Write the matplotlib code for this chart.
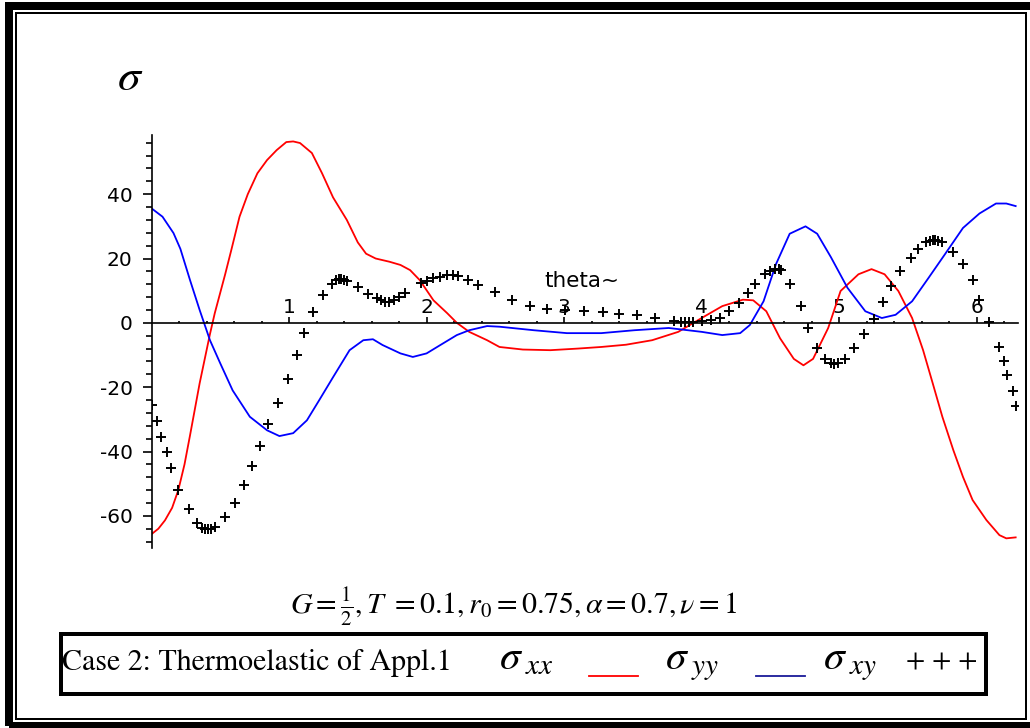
import numpy as np
import matplotlib
matplotlib.use("Agg")
import matplotlib.pyplot as plt
from matplotlib.patches import Rectangle
from matplotlib.lines import Line2D
from matplotlib.ticker import FixedLocator

plt.rcParams['mathtext.fontset'] = 'stix'
plt.rcParams['axes.unicode_minus'] = False

# sigma_xx (red line)
theta_xx = [0, 0.05, 0.098, 0.15, 0.195, 0.24, 0.28, 0.35, 0.425, 0.46, 0.535, 0.58,
            0.64, 0.70, 0.77, 0.84, 0.91, 0.98, 1.03, 1.08, 1.166, 1.24, 1.32, 1.42,
            1.50, 1.56, 1.63, 1.73, 1.81, 1.88, 1.95, 2.05, 2.15, 2.22, 2.31, 2.44,
            2.53, 2.70, 2.90, 3.10, 3.27, 3.45, 3.64, 3.83, 4.0, 4.15, 4.30, 4.375,
            4.47, 4.57, 4.67, 4.74, 4.81, 4.92, 5.01, 5.14, 5.235, 5.33, 5.43, 5.53,
            5.61, 5.68, 5.75, 5.83, 5.90, 5.97, 6.07, 6.165, 6.215, 6.283]
sig_xx = [-65.7, -64, -61.4, -57.5, -52, -44, -35, -18.8, -3.5, 3, 15, 22.6,
          33, 40, 46.5, 50.6, 53.7, 56.2, 56.4, 55.9, 52.8, 46.5, 39, 32,
          25, 21.5, 20, 19, 18, 16.4, 13.3, 7, 3, 0, -2.8, -5.4,
          -7.5, -8.3, -8.5, -8.0, -7.5, -6.8, -5.4, -2.8, 1.5, 5.2, 7.2, 7.0,
          3.6, -4.8, -11.2, -13.2, -11.2, -1.6, 9.9, 15.1, 16.7, 15.1, 9.9, 1.5,
          -8.5, -18.8, -29.2, -39.6, -47.9, -55.1, -61.3, -66, -67, -66.7]

# sigma_yy (blue line)
theta_yy = [0, 0.08, 0.16, 0.21, 0.28, 0.35, 0.425, 0.5, 0.59, 0.715, 0.84, 0.93,
            1.03, 1.13, 1.22, 1.32, 1.44, 1.54, 1.61, 1.68, 1.81, 1.90, 2.0, 2.10,
            2.22, 2.31, 2.44, 2.53, 2.78, 3.02, 3.27, 3.51, 3.76, 4.0, 4.15, 4.28,
            4.35, 4.45, 4.54, 4.64, 4.755, 4.84, 4.94, 5.06, 5.19, 5.31, 5.41, 5.53,
            5.65, 5.77, 5.90, 6.02, 6.14, 6.215, 6.283]
sig_yy = [35.6, 33, 27.9, 23, 13.3, 4, -5.4, -12.6, -21, -29.2, -33.4, -35.2,
          -34.3, -30.3, -24, -16.9, -8.5, -5.4, -5.1, -6.9, -9.5, -10.6, -9.5, -6.9,
          -3.8, -2.3, -1, -1.2, -2.3, -3.2, -3.2, -2.3, -1.6, -2.8, -3.8, -3.2,
          -0.7, 6.7, 18.2, 27.7, 30, 27.7, 20.4, 10.9, 3.6, 1.5, 2.5, 6.7,
          14, 21.4, 29.5, 34, 37.1, 37.1, 36.3]

# sigma_xy (crosses)
theta_xy = [0, 0.037, 0.069, 0.11, 0.14, 0.195, 0.27, 0.33, 0.37, 0.39, 0.41, 0.43,
            0.46, 0.535, 0.61, 0.67, 0.73, 0.79, 0.85, 0.92, 0.99, 1.055, 1.11, 1.175,
            1.245, 1.31, 1.34, 1.36, 1.38, 1.40, 1.42, 1.50, 1.575, 1.64, 1.67, 1.70,
            1.73, 1.76, 1.80, 1.84, 1.96, 2.0, 2.05, 2.1, 2.145, 2.19, 2.23, 2.30,
            2.375, 2.50, 2.62, 2.755, 2.875, 3.01, 3.145, 3.28, 3.40, 3.53, 3.66, 3.80,
            3.85, 3.88, 3.91, 3.94, 4.0, 4.07, 4.13, 4.20, 4.27, 4.34, 4.385, 4.46,
            4.50, 4.53, 4.56, 4.58, 4.645, 4.72, 4.77, 4.84, 4.90, 4.94, 4.965, 4.99,
            5.04, 5.11, 5.18, 5.25, 5.32, 5.38, 5.445, 5.52, 5.57, 5.63, 5.66, 5.68,
            5.70, 5.72, 5.75, 5.825, 5.90, 5.97, 6.02, 6.09, 6.16, 6.20, 6.22, 6.265,
            6.283]
sig_xy = [-25.6, -30.5, -35.4, -40.1, -45, -52, -58, -62.3, -63.8, -64.2, -64.2, -64,
          -63.4, -60.3, -56, -50.5, -44.6, -38.3, -31.5, -24.9, -17.4, -10.1, -3.1, 3.3,
          8.8, 12.2, 13.2, 13.6, 13.6, 13.4, 13.1, 11.2, 9.1, 7.6, 7.0, 6.6,
          6.6, 7.1, 8.1, 9.3, 12.4, 13.1, 13.8, 14.4, 14.8, 14.8, 14.5, 13.3,
          11.9, 9.6, 7, 5.3, 4.4, 4.1, 3.8, 3.3, 2.8, 2.3, 1.5, 0.6,
          0.3, 0.2, 0.2, 0.3, 0.5, 0.9, 1.5, 3.6, 6.3, 9.3, 12.2, 15.1,
          16.2, 16.7, 16.8, 16.5, 12, 5.2, -1.5, -7.8, -11.2, -12.4, -12.7, -12.5,
          -11.2, -7.8, -3.6, 1.1, 6.4, 11.4, 16.2, 20.1, 23, 25.0, 25.5, 25.7,
          25.7, 25.5, 25.2, 22, 18.3, 13.4, 7, 0.2, -7.5, -12, -16.3, -21.2,
          -26]

x_ticks = [1, 2, 3, 4, 5, 6]
y_ticks = [-60, -40, -20, 0, 20, 40]

W, H = 1030, 728
fig = plt.figure(figsize=(W / 100, H / 100), dpi=100)

ax = fig.add_axes([151.5 / W, (H - 548) / H, (1018 - 151.5) / W, (548 - 135) / H])
ax.set_xlim(0, 6.3)
ax.set_ylim(-70, 58.4)

ax.plot(theta_xx, sig_xx, color='#ff0000', lw=1.3)
ax.plot(theta_yy, sig_yy, color='#0000ff', lw=1.3)
ax.plot(theta_xy, sig_xy, ls='none', marker='+', ms=7, mew=1.4, color='black')

ax.spines['bottom'].set_visible(False)
ax.spines['right'].set_visible(False)
ax.spines['top'].set_position(('data', 0))
ax.spines['left'].set_position(('data', 0))
for s in ('top', 'left'):
    ax.spines[s].set_linewidth(1.2)

ax.xaxis.set_ticks_position('top')
ax.set_xticks(x_ticks)
ax.xaxis.set_minor_locator(FixedLocator(np.arange(0.2, 6.3, 0.2)))
ax.tick_params(axis='x', which='major', direction='out', length=4.5, width=1.2,
               pad=0, labelsize=14.5)
ax.tick_params(axis='x', which='minor', direction='out', length=1.5, width=1.2)

ax.set_yticks(y_ticks)
ax.yaxis.set_minor_locator(FixedLocator(np.arange(-68, 57, 4)))
ax.tick_params(axis='y', which='major', direction='out', length=6.5, width=1.2,
               pad=7, labelsize=14.5)
ax.tick_params(axis='y', which='minor', direction='out', length=4, width=1.2)
for lab in ax.get_xticklabels() + ax.get_yticklabels():
    lab.set_fontfamily('DejaVu Sans')

ax.text(3.13, 13, 'theta~', fontsize=15.5, fontfamily='DejaVu Sans',
        ha='center', va='center')


def fx(x):
    return x / W


def fy(y):
    return 1 - y / H


def frame(x0, y0, x1, y1, lw_px):
    r = Rectangle((fx(x0), fy(y1)), (x1 - x0) / W, (y1 - y0) / H,
                  transform=fig.transFigure, fill=False, edgecolor='black',
                  lw=lw_px * 0.72, zorder=5)
    fig.add_artist(r)


# double border and legend box
frame(9, 6, 1032, 726, 8)
frame(16, 12.5, 1026, 719, 2)
frame(61, 634, 986, 694, 4)

fig.text(fx(130), fy(78), r'$\sigma$', fontsize=33, ha='center', va='center')

fig.text(fx(513), fy(614), r'$G=\frac{1}{2},T\ =0.1,r_0=0.75,\alpha=0.7,\nu=1$',
         fontsize=21.5, ha='center', va='baseline')

fig.text(fx(62), fy(670), 'Case 2: Thermoelastic of Appl.1', fontsize=21.5,
         fontfamily='STIXGeneral', ha='left', va='baseline')
fig.text(fx(499), fy(669), r'$\sigma_{\;xx}$', fontsize=30, ha='left', va='baseline')
fig.text(fx(665), fy(669), r'$\sigma_{\;yy}$', fontsize=30, ha='left', va='baseline')
fig.text(fx(823), fy(669), r'$\sigma_{\;xy}$', fontsize=30, ha='left', va='baseline')
fig.text(fx(942), fy(662), '+ + +', fontsize=20, fontfamily='STIXGeneral',
         ha='center', va='center')
fig.add_artist(Line2D([fx(589), fx(638)], [fy(676), fy(676)], color='#ff0000', lw=1.3))
fig.add_artist(Line2D([fx(756), fx(805)], [fy(676), fy(676)], color='#1a1a99', lw=1.3))

fig.savefig('out.png', dpi=100)
